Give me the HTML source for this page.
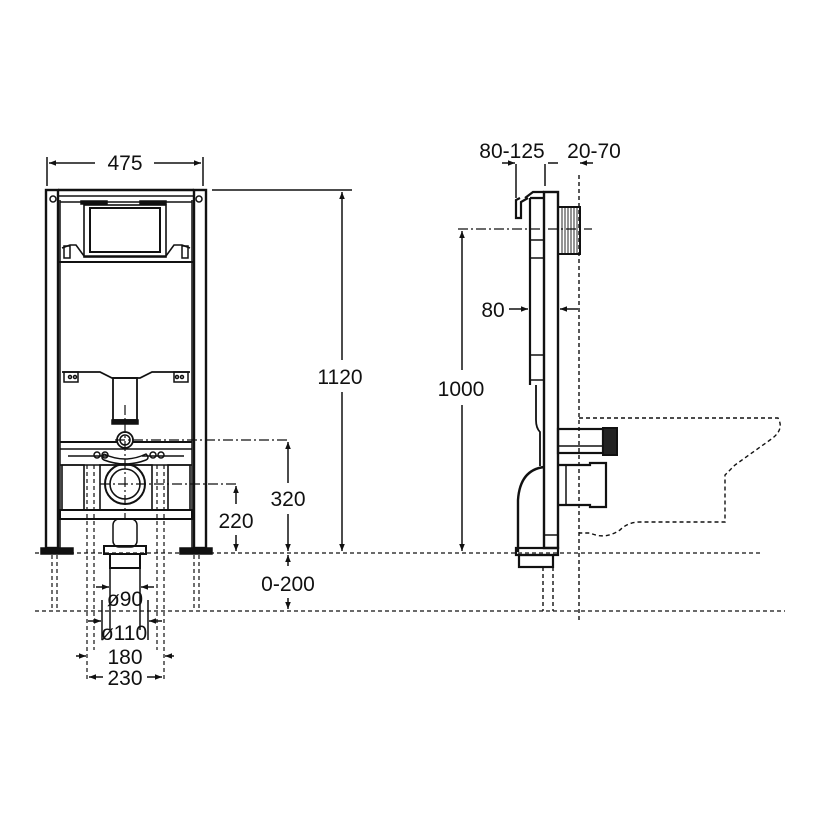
<!DOCTYPE html>
<html><head><meta charset="utf-8"><style>
html,body{margin:0;padding:0;background:#fff}
svg{display:block}
text{font-family:"Liberation Sans",sans-serif;font-size:21px;fill:#111}
</style></head><body>
<svg width="820" height="820" viewBox="0 0 820 820" xmlns="http://www.w3.org/2000/svg">
<defs>
<marker id="a" viewBox="0 0 10 10" refX="10" refY="5" markerWidth="10" markerHeight="7" orient="auto-start-reverse" markerUnits="userSpaceOnUse"><path d="M0,1 L10,5 L0,9 z" fill="#111"/></marker>
</defs>
<g stroke="#111" fill="none" stroke-width="1.5">
<line x1="47" y1="157" x2="47" y2="186"/><line x1="203" y1="157" x2="203" y2="186"/>
<line x1="49" y1="163" x2="95" y2="163" marker-start="url(#a)"/>
<line x1="154" y1="163" x2="201" y2="163" marker-end="url(#a)"/>
<rect x="46" y="190" width="12" height="358" stroke-width="2.4"/>
<rect x="194" y="190" width="12" height="358" stroke-width="2.4"/>
<line x1="58" y1="190" x2="194" y2="190" stroke-width="2.4"/>
<line x1="58" y1="196" x2="194" y2="196" stroke-width="1.6"/>
<circle cx="53" cy="199" r="3"/><circle cx="199" cy="199" r="3"/>
<line x1="60" y1="202" x2="192" y2="202" stroke-width="1.6"/>
<rect x="81" y="201" width="26" height="3" fill="#111"/><rect x="140" y="201" width="26" height="3" fill="#111"/>
<rect x="84" y="205" width="82" height="52" stroke-width="1.6"/>
<rect x="90" y="208" width="70" height="44" stroke-width="2"/>
<path d="M62,248 L70,245 L76,245 L84,256 L166,256 L174,245 L182,245 L190,248" stroke-width="1.6"/>
<path d="M58,262 L194,262" stroke-width="2"/>
<rect x="64" y="246" width="6" height="12"/><rect x="182" y="246" width="6" height="12"/>
<line x1="60" y1="200" x2="60" y2="550"/><line x1="192" y1="200" x2="192" y2="550"/>
<path d="M62,372 L100,372 L112,378 L140,378 L152,372 L190,372" stroke-width="1.8"/>
<rect x="64" y="372" width="14" height="10"/><rect x="174" y="372" width="14" height="10"/>
<circle cx="70" cy="377" r="1.5"/><circle cx="75" cy="377" r="1.5"/><circle cx="177" cy="377" r="1.5"/><circle cx="182" cy="377" r="1.5"/>
<rect x="113" y="378" width="24" height="42" stroke-width="1.8"/>
<rect x="112" y="420" width="26" height="4" fill="#111"/>
<circle cx="125" cy="440" r="8" stroke-width="1.8"/><circle cx="125" cy="440" r="5"/>
<line x1="60" y1="442" x2="117" y2="442" stroke-width="2"/><line x1="133" y1="442" x2="192" y2="442" stroke-width="2"/>
<line x1="60" y1="449" x2="192" y2="449"/>
<path d="M68,456 L108,456 M142,456 L184,456" stroke-width="1.5"/>
<path d="M104,454 Q125,464 146,454 Q150,458 146,460 Q125,468 104,460 Q100,458 104,454" />
<circle cx="97" cy="455" r="3"/><circle cx="105" cy="455" r="3"/><circle cx="153" cy="455" r="3"/><circle cx="161" cy="455" r="3"/>
<line x1="60" y1="465" x2="192" y2="465" stroke-width="1.5"/>
<rect x="62" y="465" width="22" height="45" stroke-width="1.6"/><rect x="168" y="465" width="22" height="45" stroke-width="1.6"/>
<rect x="100" y="465" width="52" height="45" stroke-width="1.6"/>
<circle cx="125" cy="484" r="20" stroke-width="2"/><circle cx="125" cy="484" r="15" stroke-width="1.6"/>
<rect x="60" y="510" width="132" height="9" stroke-width="2"/>
<rect x="113" y="519" width="24" height="28" rx="6"/>
<rect x="104" y="546" width="42" height="8" stroke-width="2"/>
<rect x="110" y="554" width="30" height="14" stroke-width="2"/>
<rect x="41" y="548" width="32" height="6" fill="#111"/><rect x="180" y="548" width="32" height="6" fill="#111"/>
<g stroke-dasharray="10,3,2,3" stroke-width="1.2">
<line x1="125" y1="405" x2="125" y2="520"/>
<line x1="100" y1="484" x2="238" y2="484"/>
<line x1="115" y1="440" x2="290" y2="440"/>
</g>
<g stroke-dasharray="4,3" stroke-width="1.2">
<line x1="52" y1="555" x2="52" y2="610"/><line x1="57" y1="555" x2="57" y2="610"/>
<line x1="194" y1="555" x2="194" y2="610"/><line x1="199" y1="555" x2="199" y2="610"/>
<line x1="87" y1="465" x2="87" y2="680"/><line x1="94" y1="465" x2="94" y2="650"/>
<line x1="157" y1="465" x2="157" y2="650"/><line x1="164" y1="465" x2="164" y2="680"/>
<line x1="35" y1="553" x2="760" y2="553"/>
<line x1="35" y1="611" x2="785" y2="611"/>
</g>
<line x1="110" y1="568" x2="110" y2="630"/><line x1="140" y1="568" x2="140" y2="630"/>
<line x1="102" y1="600" x2="102" y2="640"/><line x1="148" y1="600" x2="148" y2="640"/>
<line x1="96" y1="587" x2="109" y2="587" marker-end="url(#a)"/><line x1="154" y1="587" x2="141" y2="587" marker-end="url(#a)"/>
<line x1="88" y1="621" x2="101" y2="621" marker-end="url(#a)"/><line x1="162" y1="621" x2="149" y2="621" marker-end="url(#a)"/>
<line x1="76" y1="656" x2="86" y2="656" marker-end="url(#a)"/><line x1="174" y1="656" x2="165" y2="656" marker-end="url(#a)"/>
<line x1="89" y1="677" x2="103" y2="677" marker-start="url(#a)"/><line x1="147" y1="677" x2="162" y2="677" marker-end="url(#a)"/>
<line x1="212" y1="190" x2="352" y2="190"/>
<line x1="342" y1="192" x2="342" y2="360" marker-start="url(#a)"/>
<line x1="342" y1="392" x2="342" y2="551" marker-end="url(#a)"/>
<line x1="288" y1="442" x2="288" y2="483" marker-start="url(#a)"/>
<line x1="288" y1="514" x2="288" y2="551" marker-end="url(#a)"/>
<line x1="236" y1="486" x2="236" y2="504" marker-start="url(#a)"/>
<line x1="236" y1="535" x2="236" y2="551" marker-end="url(#a)"/>
<line x1="288" y1="566" x2="288" y2="555" marker-end="url(#a)"/>
<line x1="288" y1="598" x2="288" y2="609" marker-end="url(#a)"/>

<line x1="516" y1="164" x2="516" y2="198"/><line x1="545" y1="164" x2="545" y2="186"/>
<line x1="502" y1="163" x2="515" y2="163" marker-end="url(#a)"/>
<line x1="548" y1="163" x2="558" y2="163"/>
<line x1="593" y1="163" x2="580" y2="163" marker-end="url(#a)"/>
<rect x="544" y="192" width="14" height="356" stroke-width="2.4"/>
<path d="M530,198 L544,198 M530,198 L530,385" stroke-width="2.2"/>
<path d="M525,198 L533,192 L544,192 M520,198 L516,200 L516,218 L521,218 L521,202 L528,198" stroke-width="2.2"/>
<line x1="530" y1="240" x2="544" y2="240"/><line x1="530" y1="258" x2="544" y2="258"/>
<line x1="530" y1="355" x2="544" y2="355"/><line x1="530" y1="380" x2="544" y2="380"/>
<path d="M536,385 L536,420 Q536,428 540,432 L540,466" stroke-width="1.8"/>
<rect x="558" y="207" width="22" height="47" stroke-width="2"/>
<g stroke-width="0.9"><line x1="562" y1="207" x2="562" y2="254"/><line x1="565" y1="207" x2="565" y2="254"/><line x1="568" y1="207" x2="568" y2="254"/><line x1="571" y1="207" x2="571" y2="254"/><line x1="574" y1="207" x2="574" y2="254"/><line x1="577" y1="207" x2="577" y2="254"/></g>
<rect x="558" y="429" width="45" height="24" stroke-width="2.2"/>
<line x1="558" y1="446" x2="603" y2="446"/>
<rect x="603" y="428" width="14" height="27" fill="#222" stroke-width="2"/>
<path d="M558,465 L590,465 L590,463 L606,463 L606,507 L590,507 L590,505 L558,505" stroke-width="2.2"/>
<line x1="566" y1="465" x2="566" y2="505"/>
<path d="M544,467 Q520,470 518,500 L518,552" stroke-width="2.4"/>
<line x1="544" y1="535" x2="558" y2="535"/>
<rect x="516" y="548" width="42" height="7" stroke-width="2.2"/>
<rect x="519" y="555" width="34" height="12" stroke-width="2.2"/>
<line x1="509" y1="309" x2="528" y2="309" marker-end="url(#a)"/>
<line x1="578" y1="309" x2="560" y2="309" marker-end="url(#a)"/>
<line x1="462" y1="231" x2="462" y2="370" marker-start="url(#a)"/>
<line x1="462" y1="405" x2="462" y2="551" marker-end="url(#a)"/>
<g stroke-dasharray="10,3,2,3" stroke-width="1.2">
<line x1="458" y1="229" x2="592" y2="229"/>
</g>
<g stroke-dasharray="4,3" stroke-width="1.4">
<line x1="579" y1="175" x2="579" y2="620"/>
<line x1="543" y1="567" x2="543" y2="611"/><line x1="553" y1="567" x2="553" y2="611"/>
<path d="M579,418 L778,418 Q785,430 770,440 L735,465 L725,475 L725,522 L640,522 Q628,522 620,530 Q605,540 590,533 L579,533"/>
</g>
</g>
<g>
<text x="125" y="170" text-anchor="middle">475</text>
<text x="340" y="384" text-anchor="middle">1120</text>
<text x="288" y="506" text-anchor="middle">320</text>
<text x="236" y="528" text-anchor="middle">220</text>
<text x="288" y="591" text-anchor="middle">0-200</text>
<text x="125" y="606" text-anchor="middle">ø90</text>
<text x="124" y="640" text-anchor="middle">ø110</text>
<text x="125" y="664" text-anchor="middle">180</text>
<text x="125" y="685" text-anchor="middle">230</text>
<text x="512" y="158" text-anchor="middle">80-125</text>
<text x="594" y="158" text-anchor="middle">20-70</text>
<text x="493" y="317" text-anchor="middle">80</text>
<text x="461" y="396" text-anchor="middle">1000</text>
</g>
</svg>
</body></html>
